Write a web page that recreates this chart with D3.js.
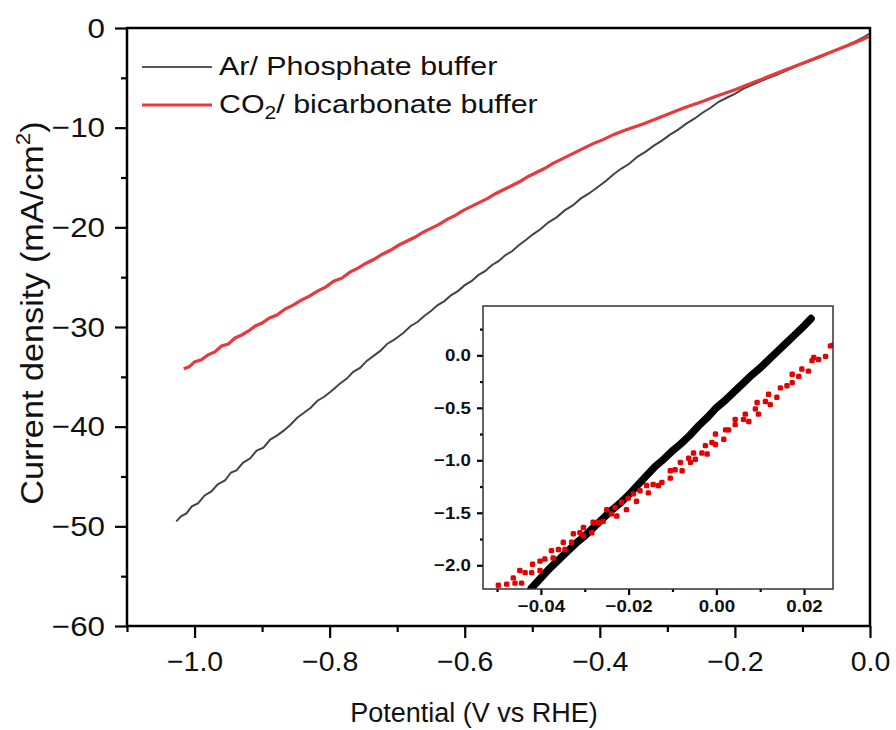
<!DOCTYPE html>
<html>
<head>
<meta charset="utf-8">
<script src="https://cdn.jsdelivr.net/npm/d3@7/dist/d3.min.js"></script>
<style>
body{margin:0;background:#fff;}
text{font-family:"Liberation Sans",Arial,sans-serif;fill:#111;}
</style>
</head>
<body>
<svg id="chart" width="896" height="730"></svg>
<script>
// Ar / phosphate buffer (V vs RHE, mA/cm2)
const arPotential = [-1.027,-1.020,-1.012,-1.004,-0.995,-0.985,-0.975,-0.966,-0.955,-0.946,-0.938,-0.928,-0.918,-0.908,-0.898,-0.888,-0.878,-0.868,-0.858,-0.848,-0.838,-0.828,-0.818,-0.808,-0.795,-0.785,-0.775,-0.765,-0.755,-0.745,-0.735,-0.725,-0.715,-0.705,-0.691,-0.680,-0.670,-0.660,-0.650,-0.640,-0.630,-0.620,-0.610,-0.600,-0.590,-0.580,-0.570,-0.560,-0.550,-0.540,-0.530,-0.520,-0.510,-0.499,-0.488,-0.476,-0.464,-0.452,-0.440,-0.428,-0.416,-0.404,-0.392,-0.380,-0.368,-0.356,-0.344,-0.332,-0.320,-0.308,-0.296,-0.284,-0.272,-0.260,-0.248,-0.236,-0.224,-0.212,-0.200,-0.188,-0.176,-0.164,-0.152,-0.140,-0.128,-0.116,-0.104,-0.092,-0.080,-0.068,-0.056,-0.044,-0.032,-0.020,-0.010,-0.002];
const arCurrent = [-49.5,-49.0,-48.7,-48.0,-47.7,-46.9,-46.5,-45.8,-45.4,-44.6,-44.4,-43.6,-43.2,-42.4,-42.1,-41.3,-40.9,-40.4,-39.8,-39.1,-38.6,-38.1,-37.4,-37.0,-36.3,-35.7,-35.2,-34.5,-34.1,-33.4,-32.9,-32.4,-31.7,-31.3,-30.6,-29.9,-29.5,-28.9,-28.4,-27.8,-27.4,-26.8,-26.4,-25.8,-25.4,-24.8,-24.4,-23.8,-23.4,-22.8,-22.4,-21.8,-21.3,-20.7,-20.2,-19.5,-19.0,-18.3,-17.8,-17.1,-16.6,-16.0,-15.4,-14.7,-14.1,-13.6,-12.9,-12.4,-11.8,-11.3,-10.7,-10.2,-9.6,-9.1,-8.5,-8.0,-7.4,-7.0,-6.6,-6.1,-5.75,-5.4,-5.05,-4.75,-4.4,-4.05,-3.7,-3.4,-3.1,-2.75,-2.4,-2.05,-1.7,-1.3,-0.95,-0.6];

// CO2 / bicarbonate buffer
const co2Potential = [-1.016,-1.008,-1.000,-0.990,-0.980,-0.970,-0.960,-0.950,-0.940,-0.930,-0.920,-0.910,-0.900,-0.889,-0.878,-0.866,-0.854,-0.842,-0.830,-0.818,-0.806,-0.794,-0.782,-0.770,-0.758,-0.746,-0.734,-0.722,-0.710,-0.698,-0.686,-0.674,-0.662,-0.650,-0.638,-0.626,-0.614,-0.602,-0.590,-0.578,-0.566,-0.554,-0.542,-0.530,-0.518,-0.506,-0.494,-0.482,-0.470,-0.455,-0.440,-0.425,-0.410,-0.395,-0.380,-0.365,-0.350,-0.335,-0.320,-0.305,-0.290,-0.275,-0.260,-0.245,-0.230,-0.215,-0.200,-0.185,-0.170,-0.155,-0.140,-0.125,-0.110,-0.095,-0.080,-0.065,-0.050,-0.035,-0.020,-0.008,-0.002];
const co2Current = [-34.2,-34.0,-33.5,-33.3,-32.8,-32.5,-31.9,-31.7,-31.1,-30.8,-30.4,-29.9,-29.6,-29.1,-28.8,-28.2,-27.8,-27.3,-26.9,-26.4,-26.0,-25.4,-25.1,-24.5,-24.1,-23.6,-23.2,-22.7,-22.3,-21.8,-21.4,-21.0,-20.5,-20.1,-19.7,-19.2,-18.8,-18.3,-17.9,-17.5,-17.1,-16.6,-16.2,-15.8,-15.4,-14.9,-14.5,-14.1,-13.6,-13.1,-12.6,-12.1,-11.6,-11.2,-10.7,-10.3,-9.95,-9.6,-9.2,-8.8,-8.4,-8.0,-7.65,-7.3,-6.9,-6.55,-6.2,-5.8,-5.4,-5.0,-4.6,-4.2,-3.8,-3.4,-3.0,-2.6,-2.2,-1.8,-1.4,-1.05,-0.85];

// inset, zoom near the onset
const insetArPotential = [-0.0422,-0.040,-0.038,-0.036,-0.034,-0.032,-0.030,-0.028,-0.026,-0.024,-0.022,-0.020,-0.018,-0.016,-0.014,-0.012,-0.010,-0.008,-0.006,-0.004,-0.002,0.000,0.002,0.004,0.006,0.008,0.010,0.012,0.014,0.016,0.018,0.020,0.0216];
const insetArCurrent = [-2.22,-2.12,-2.03,-1.95,-1.87,-1.79,-1.72,-1.64,-1.56,-1.48,-1.41,-1.33,-1.24,-1.15,-1.06,-0.99,-0.91,-0.84,-0.76,-0.67,-0.59,-0.50,-0.43,-0.35,-0.27,-0.19,-0.12,-0.04,0.04,0.12,0.20,0.28,0.35];
const insetCo2Potential = [-0.0497,-0.0478,-0.0463,-0.0459,-0.0448,-0.0444,-0.0436,-0.0421,-0.0419,-0.0402,-0.0402,-0.0391,-0.0376,-0.0372,-0.0360,-0.0349,-0.0345,-0.0330,-0.0326,-0.0311,-0.0303,-0.0303,-0.0284,-0.0281,-0.0269,-0.0258,-0.0250,-0.0239,-0.0231,-0.0227,-0.0216,-0.0205,-0.0201,-0.0189,-0.0182,-0.0174,-0.0159,-0.0155,-0.0144,-0.0132,-0.0124,-0.0105,-0.0105,-0.0094,-0.0082,-0.0078,-0.0063,-0.0059,-0.0052,-0.0048,-0.0033,-0.0025,-0.0021,-0.0010,-0.0002,-0.0002,0.0017,0.0021,0.0028,0.0043,0.0043,0.0062,0.0066,0.0074,0.0089,0.0093,0.0096,0.0112,0.0119,0.0123,0.0138,0.0146,0.0161,0.0173,0.0173,0.0188,0.0195,0.0210,0.0218,0.0222,0.0233,0.0249,0.0260,0.0267];
const insetCo2Current = [-2.19,-2.18,-2.12,-2.17,-2.05,-2.17,-2.07,-2.07,-1.99,-2.05,-1.96,-1.94,-1.86,-1.93,-1.85,-1.78,-1.85,-1.78,-1.70,-1.69,-1.64,-1.72,-1.69,-1.59,-1.59,-1.58,-1.47,-1.51,-1.45,-1.53,-1.40,-1.47,-1.36,-1.32,-1.39,-1.29,-1.24,-1.31,-1.23,-1.24,-1.21,-1.17,-1.10,-1.09,-1.02,-1.10,-0.98,-1.02,-0.93,-0.99,-0.93,-0.86,-0.94,-0.83,-0.75,-0.85,-0.80,-0.71,-0.71,-0.66,-0.61,-0.61,-0.56,-0.63,-0.51,-0.45,-0.56,-0.44,-0.37,-0.47,-0.40,-0.31,-0.29,-0.26,-0.18,-0.20,-0.13,-0.15,-0.05,-0.02,-0.04,-0.01,0.09,0.10];

const seriesNames = ["Ar/ Phosphate buffer", "CO2/ bicarbonate buffer"];
const xMajorTicks = [-1.0,-0.8,-0.6,-0.4,-0.2,0.0];
const xMinorTicks = [-1.1,-0.9,-0.7,-0.5,-0.3,-0.1];
const yMajorTicks = [0,-10,-20,-30,-40,-50,-60];
const yMinorTicks = [-5,-15,-25,-35,-45,-55];
const insetXMajorTicks = [-0.04,-0.02,0.00,0.02];
const insetXMinorTicks = [-0.05,-0.03,-0.01,0.01];
const insetYMajorTicks = [0.0,-0.5,-1.0,-1.5,-2.0];
const insetYMinorTicks = [0.25,-0.25,-0.75,-1.25,-1.75];

class LsvChart{

    constructor(svg){
	this.svg = svg;
	this.area = {left:127,right:870,top:28,bottom:626};
	this.x = d3.scaleLinear().domain([-1.1,0]).range([this.area.left,this.area.right]);
	this.y = d3.scaleLinear().domain([-60,0]).range([this.area.bottom,this.area.top]);
	//
	this.insetArea = {left:483,right:833,top:306,bottom:589};
	this.ix = d3.scaleLinear().domain([-0.0532,0.0266]).range([this.insetArea.left,this.insetArea.right]);
	this.iy = d3.scaleLinear().domain([-2.226,0.47]).range([this.insetArea.bottom,this.insetArea.top]);
	this.colors = {ar:"#444",co2:"#e8393e"};
    }

    zip(xs,ys){
	return xs.map((v,i) => [v,ys[i]]);
    }

    drawAxes(){
	var a = this.area;
	var fmt1 = d3.format(".1f");
	var gx = this.svg.append("g").attr("transform","translate(0,"+a.bottom+")");
	gx.call(d3.axisBottom(this.x).tickValues(xMajorTicks).tickSize(12).tickPadding(13).tickFormat(fmt1));
	gx.append("g").call(d3.axisBottom(this.x).tickValues(xMinorTicks).tickSize(6).tickFormat(""));
	var gy = this.svg.append("g").attr("transform","translate("+a.left+",0)");
	gy.call(d3.axisLeft(this.y).tickValues(yMajorTicks).tickSize(12).tickPadding(8).tickFormat(d3.format("d")));
	gy.append("g").call(d3.axisLeft(this.y).tickValues(yMinorTicks).tickSize(6).tickFormat(""));
	this.svg.selectAll(".domain").remove();
	this.svg.selectAll(".tick line").attr("stroke","#000").attr("stroke-width",2.2);
	gx.selectAll("text").attr("font-size",28.5).attr("fill","#111");
	gy.selectAll("text").attr("font-size",28.5).attr("fill","#111")
	    .attr("transform","scale(1.1,1)");
	//
	this.svg.append("rect")
	    .attr("x",a.left).attr("y",a.top)
	    .attr("width",a.right-a.left).attr("height",a.bottom-a.top)
	    .attr("fill","none").attr("stroke","#000").attr("stroke-width",2.5);
	//
	this.svg.append("text")
	    .attr("x",474).attr("y",722)
	    .attr("text-anchor","middle").attr("font-size",27)
	    .text("Potential (V vs RHE)");
	var yt = this.svg.append("text")
	    .attr("transform","translate(43,313) rotate(-90) scale(1.07,1)")
	    .attr("text-anchor","middle").attr("font-size",32);
	yt.append("tspan").text("Current density (mA/cm");
	yt.append("tspan").attr("font-size",21).attr("dy",-13).text("2");
	yt.append("tspan").attr("dy",13).text(")");
    }

    drawCurves(){
	var line = d3.line().x(d => this.x(d[0])).y(d => this.y(d[1]));
	var g = this.svg.append("g");
	g.append("path").datum(this.zip(arPotential,arCurrent))
	    .attr("d",line).attr("fill","none")
	    .attr("stroke",this.colors.ar).attr("stroke-width",2);
	g.append("path").datum(this.zip(co2Potential,co2Current))
	    .attr("d",line).attr("fill","none")
	    .attr("stroke",this.colors.co2).attr("stroke-width",3.2);
    }

    drawLegend(){
	var rows = [{name:seriesNames[0],color:"#555",w:2,y:67},
		    {name:seriesNames[1],color:this.colors.co2,w:3,y:105}];
	var g = this.svg.append("g");
	rows.forEach(r => {
	    g.append("line").attr("x1",142).attr("x2",212).attr("y1",r.y).attr("y2",r.y)
		.attr("stroke",r.color).attr("stroke-width",r.w);
	    // the source figure text is a bit wider than Arial, stretch it
	    var t = g.append("text").attr("transform","translate(219,"+(r.y+8)+") scale(1.17,1)")
		.attr("font-size",26);
	    if(r.name.startsWith("CO2")){
		t.append("tspan").text("CO");
		t.append("tspan").attr("font-size",18).attr("dy",6).text("2");
		t.append("tspan").attr("dy",-6).text(r.name.slice(3));
	    }
	    else
		t.text(r.name);
	});
    }

    drawInset(){
	var a = this.insetArea;
	var g = this.svg.append("g");
	g.append("rect").attr("x",a.left).attr("y",a.top)
	    .attr("width",a.right-a.left).attr("height",a.bottom-a.top)
	    .attr("fill","#fff");
	g.append("clipPath").attr("id","insetClip")
	    .append("rect").attr("x",a.left).attr("y",a.top)
	    .attr("width",a.right-a.left).attr("height",a.bottom-a.top);
	var plot = g.append("g").attr("clip-path","url(#insetClip)");
	//
	var line = d3.line().x(d => this.ix(d[0])).y(d => this.iy(d[1]));
	plot.append("path").datum(this.zip(insetArPotential,insetArCurrent))
	    .attr("d",line).attr("fill","none")
	    .attr("stroke","#000").attr("stroke-width",7.5).attr("stroke-linecap","round");
	plot.selectAll("rect.pt").data(this.zip(insetCo2Potential,insetCo2Current)).enter()
	    .append("rect").attr("class","pt")
	    .attr("x",d => this.ix(d[0])-2.7).attr("y",d => this.iy(d[1])-2.7)
	    .attr("width",5.4).attr("height",5.4).attr("rx",1.5)
	    .attr("fill","#e60000");
	//
	var fmtX = d3.format(".2f"), fmtY = d3.format(".1f");
	var gx = g.append("g").attr("transform","translate(0,"+a.bottom+")");
	gx.call(d3.axisBottom(this.ix).tickValues(insetXMajorTicks).tickSize(6).tickPadding(5).tickFormat(fmtX));
	gx.append("g").call(d3.axisBottom(this.ix).tickValues(insetXMinorTicks).tickSize(3).tickFormat(""));
	var gy = g.append("g").attr("transform","translate("+a.left+",0)");
	gy.call(d3.axisLeft(this.iy).tickValues(insetYMajorTicks).tickSize(6).tickPadding(5).tickFormat(fmtY));
	gy.append("g").call(d3.axisLeft(this.iy).tickValues(insetYMinorTicks).tickSize(3).tickFormat(""));
	g.selectAll(".domain").remove();
	g.selectAll(".tick line").attr("stroke","#333").attr("stroke-width",1.2);
	g.selectAll(".tick text").attr("font-size",17).attr("font-weight","bold").attr("fill","#222");
	gx.selectAll(".tick text").attr("transform","scale(1.1,1)");
	gy.selectAll(".tick text").attr("transform","scale(1.1,1)");
	g.append("rect").attr("x",a.left).attr("y",a.top)
	    .attr("width",a.right-a.left).attr("height",a.bottom-a.top)
	    .attr("fill","none").attr("stroke","#333").attr("stroke-width",1.5);
    }
}

var chart = new LsvChart(d3.select("#chart"));
chart.drawCurves();
chart.drawInset();
chart.drawAxes();
chart.drawLegend();
</script>
</body>
</html>
